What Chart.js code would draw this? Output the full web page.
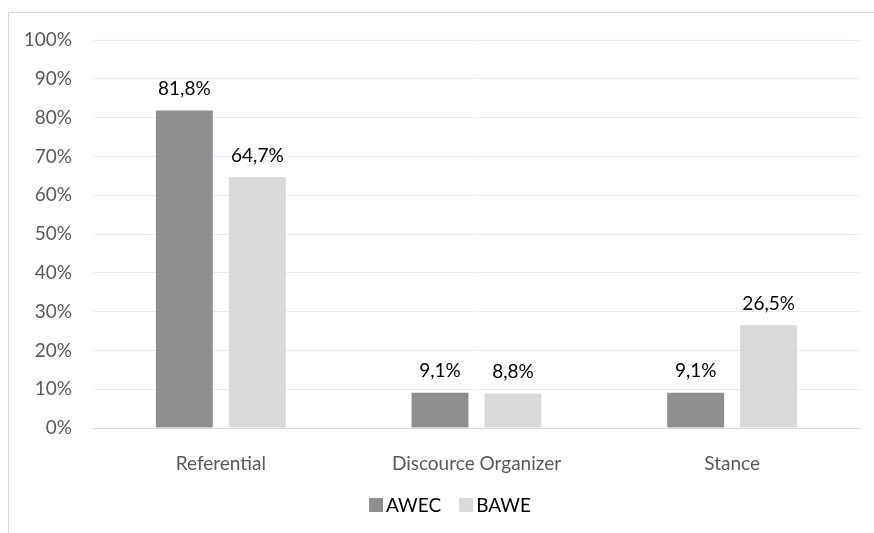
<!DOCTYPE html>
<html>
<head>
<meta charset="utf-8">
<script src="https://cdn.jsdelivr.net/npm/chart.js@4"></script>
<style>
  html, body { margin: 0; padding: 0; background: #fff; overflow: hidden; }
  #frame { position: absolute; left: 8px; top: 12px; width: 900px; height: 560px; border: 1px solid #d9d9d9; }
  #wrap { position: absolute; left: 0; top: 0; width: 874px; height: 533px; }
</style>
</head>
<body>
<div id="frame"></div>
<div id="wrap"><canvas id="chart"></canvas></div>
<script>
// categories + series
const categories = ['Referential', 'Discource Organizer', 'Stance'];
const awec = [81.8, 9.1, 9.1];
const bawe = [64.7, 8.8, 26.5];
const yTicks = [0, 10, 20, 30, 40, 50, 60, 70, 80, 90, 100];

const FONT = "Lato, 'Open Sans', sans-serif";

const fmt = v => v.toFixed(1).replace('.', ',') + '%';

// value labels above each bar
const barLabels = {
  id: 'barLabels',
  afterDatasetsDraw(chart) {
    const c = chart.ctx;
    c.save();
    c.font = '19px ' + FONT;
    c.fillStyle = '#000';
    c.textAlign = 'center';
    c.textBaseline = 'bottom';
    chart.data.datasets.forEach((ds, i) => {
      chart.getDatasetMeta(i).data.forEach((bar, j) => {
        c.fillText(fmt(ds.data[j]), bar.x, bar.y - 12);
      });
    });
    c.restore();
  }
};

// excel-style legend: tight box/text gap, centred a bit right of the plot
const tightLegend = {
  id: 'tightLegend',
  afterDraw(chart) {
    const c = chart.ctx;
    const box = 14, gap = 3, spacing = 18, cy = 505, cx = 450;
    c.save();
    c.font = '19px ' + FONT;
    c.textBaseline = 'middle';
    const items = chart.data.datasets.map(ds => ({ label: ds.label, color: ds.backgroundColor, w: c.measureText(ds.label).width }));
    const total = items.reduce((s, it) => s + box + gap + it.w, 0) + spacing * (items.length - 1);
    let x = cx - total / 2;
    items.forEach(it => {
      c.fillStyle = it.color;
      c.fillRect(x, cy - box / 2, box, box);
      c.fillStyle = '#000';
      c.fillText(it.label, x + box + gap, cy + 1);
      x += box + gap + it.w + spacing;
    });
    c.restore();
  }
};

new Chart(document.getElementById('chart'), {
  type: 'bar',
  data: {
    labels: categories,
    datasets: [
      { label: 'AWEC', data: awec, backgroundColor: '#8f8f8f' },
      { label: 'BAWE', data: bawe, backgroundColor: '#d9d9d9' }
    ]
  },
  options: {
    responsive: true,
    maintainAspectRatio: false,
    animation: false,
    datasets: { bar: { categoryPercentage: 0.571, barPercentage: 0.78 } },
    layout: { padding: { top: 40, right: 14, left: 0, bottom: 45 } },
    scales: {
      x: {
        grid: { display: false, drawTicks: false },
        border: { color: '#d9d9d9', width: 1 },
        ticks: { color: '#595959', font: { family: FONT, size: 19 }, padding: 24 },
        afterFit: s => { s.height = 60; }
      },
      y: {
        min: 0, max: 100,
        afterBuildTicks: s => { s.ticks = yTicks.map(v => ({ value: v })); },
        afterFit: s => { s.width = 93; },
        grid: { color: '#e9ecf2', drawTicks: false },
        border: { display: false },
        ticks: { color: '#595959', font: { family: FONT, size: 19 }, padding: 21, callback: v => v + '%' }
      }
    },
    plugins: {
      legend: { display: false },
      tooltip: { enabled: false }
    }
  },
  plugins: [barLabels, tightLegend]
});
</script>
</body>
</html>
